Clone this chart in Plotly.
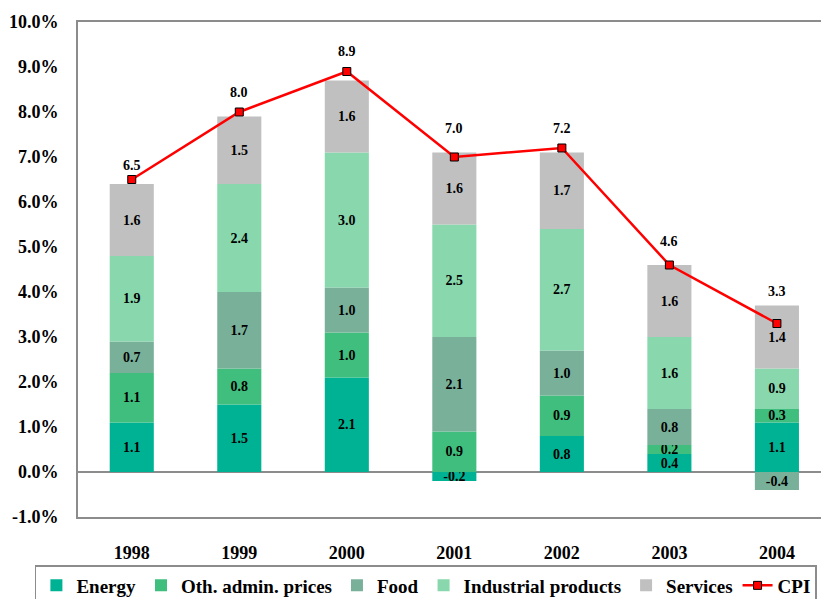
import plotly.graph_objects as go

years = ["1998", "1999", "2000", "2001", "2002", "2003", "2004"]

energy = [1.1, 1.5, 2.1, -0.2, 0.8, 0.4, 1.1]
admin_prices = [1.1, 0.8, 1.0, 0.9, 0.9, 0.2, 0.3]
food = [0.7, 1.7, 1.0, 2.1, 1.0, 0.8, -0.4]
industrial = [1.9, 2.4, 3.0, 2.5, 2.7, 1.6, 0.9]
services = [1.6, 1.5, 1.6, 1.6, 1.7, 1.6, 1.4]
cpi = [6.5, 8.0, 8.9, 7.0, 7.2, 4.6, 3.3]

y_ticks = [-1, 0, 1, 2, 3, 4, 5, 6, 7, 8, 9, 10]

components = [
    ("Energy", energy, "#00B294"),
    ("Oth. admin. prices", admin_prices, "#3FBE7D"),
    ("Food", food, "#78B09A"),
    ("Industrial products", industrial, "#88D7AD"),
    ("Services", services, "#C0C0C0"),
]

FONT = "Liberation Serif"

fig = go.Figure()

for name, vals, color in components:
    fig.add_trace(go.Bar(
        name=name,
        x=years,
        y=vals,
        marker=dict(color=color, line=dict(width=0)),
        width=0.41,
        text=[f"<b>{v:.1f}</b>" for v in vals],
        textposition="inside",
        insidetextanchor="middle",
        textangle=0,
        constraintext="none",
        textfont=dict(family=FONT, size=14, color="black"),
        hoverinfo="skip",
    ))

fig.add_trace(go.Scatter(
    name="CPI",
    x=years,
    y=cpi,
    mode="lines+markers",
    line=dict(color="#FF0000", width=2.5),
    marker=dict(symbol="square", size=8, color="#FF0000",
                line=dict(color="black", width=1)),
    hoverinfo="skip",
))

# CPI value labels sit above the taller of the stacked bar and the CPI point
label_shift = [14, 20, 20, 24, 20, 24, 14]
for i, yr in enumerate(years):
    pos_top = sum(max(vals[i], 0) for _, vals, _ in components)
    base = max(pos_top, cpi[i])
    fig.add_annotation(
        x=i, y=base, xref="x", yref="y",
        text=f"<b>{cpi[i]:.1f}</b>", showarrow=False,
        yanchor="middle", yshift=label_shift[i],
        font=dict(family=FONT, size=14, color="black"),
    )

fig.update_layout(
    barmode="relative",
    width=821, height=599,
    margin=dict(l=78, r=0, t=22, b=82, autoexpand=False),
    paper_bgcolor="white",
    plot_bgcolor="white",
    uniformtext=dict(minsize=14, mode="show"),
    font=dict(family=FONT, color="black"),
    showlegend=True,
    legend=dict(
        orientation="h",
        x=-0.058, xanchor="left",
        y=-0.097, yanchor="top",
        bordercolor="#8C8C8C", borderwidth=1.5,
        font=dict(family=FONT, size=19, color="black", weight="bold"),
        traceorder="normal",
        itemwidth=30,
    ),
    xaxis=dict(
        type="category",
        range=[-0.5, 6.41],
        showline=True, linecolor="#8C8C8C", linewidth=2, mirror=True,
        ticks="", showgrid=False,
        tickfont=dict(family=FONT, size=18, color="black", weight="bold"),
        ticklabelstandoff=18,
    ),
    yaxis=dict(
        range=[-1, 10],
        tickvals=y_ticks,
        ticktext=[f"{v:.1f}%" for v in y_ticks],
        showline=True, linecolor="#8C8C8C", linewidth=2,
        ticks="", showgrid=False,
        zeroline=True, zerolinecolor="#8C8C8C", zerolinewidth=1.5,
        tickfont=dict(family=FONT, size=18, color="black", weight="bold"),
        ticklabelstandoff=14,
    ),
)

fig.write_html("out.html")
